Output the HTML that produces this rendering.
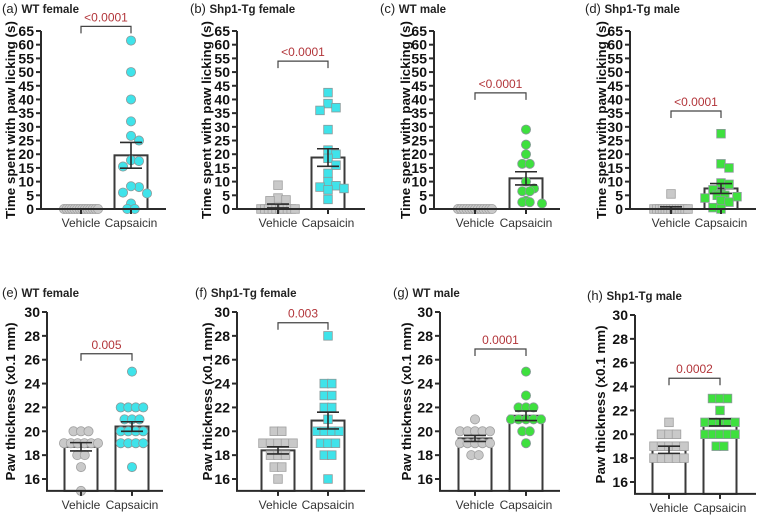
<!DOCTYPE html>
<html><head><meta charset="utf-8">
<style>
html,body{margin:0;padding:0;background:#fff;}
svg{display:block;font-family:"Liberation Sans",Arial,sans-serif;}
</style></head>
<body>
<svg id="fig" width="758" height="518" viewBox="0 0 758 518" xmlns="http://www.w3.org/2000/svg"></svg>
<script>
// ---- data ----
const categories = ["Vehicle","Capsaicin"];
const ticksLick = [0,5,10,15,20,25,30,35,40,45,50,55,60,65];
const ticksPaw = [16,18,20,22,24,26,28,30];

const aVehicle = [0,0,0,0,0,0,0,0,0,0,0,0,0,0];
const aCapsaicin = [61.5,50,40,32,25,26.7,17.8,17.5,15.5,8,8.3,6,5.7,2,0,0];
const aMeans = [0,19.6]; const aSems = [0,4.7];

const bVehicle = [8.7,4,3.3,3,0,0,0,0,0,0,0,0,0,0];
const bCapsaicin = [42.5,38.5,36,37,29,21.5,20,18.5,16,13,10,8.5,8,7,7.5,3.5];
const bMeans = [1.1,18.8]; const bSems = [0.7,3.2];

const cVehicle = [0,0,0,0,0,0,0,0,0,0,0,0,0];
const cCapsaicin = [29,23.5,20,16.5,16.5,10,7.5,6.5,6.5,3,2.5,2,2.5];
const cMeans = [0,11.2]; const cSems = [0,2.4];

const dVehicle = [5.5,0,0,0,0,0,0,0,0,0,0,0,0,0];
const dCapsaicin = [27.5,16.5,15,9.5,9,7,5.5,5,5,4.5,4,3,2.5,0.5,0];
const dMeans = [0.4,7.5]; const dSems = [0.4,1.8];

const eVehicle = [20,20,20,19,19,19,19,19,19,18,18,17,15];
const eCapsaicin = [25,22,22,22,22,21,21,21,20,20,20,20,19,19,19,19,17];
const eMeans = [18.7,20.4]; const eSems = [0.35,0.4];

const fVehicle = [20,20,19,19,19,19,19,18,18,18,17,17,16];
const fCapsaicin = [28,24,24,23,23,22,22,21,20,20,20,20,19,19,19,18,18,16];
const fMeans = [18.4,20.9]; const fSems = [0.3,0.7];

const gVehicle = [21,20,20,20,20,20,19,19,19,19,19,18,18];
const gCapsaicin = [25,23,22,22,22,21,21,21,21,21,20,20,19];
const gMeans = [19.4,21.3]; const gSems = [0.25,0.4];

const hVehicle = [21,20,20,20,19,19,19,19,19,18,18,18,18,18];
const hCapsaicin = [23,23,23,22,21,21,21,21,21,20,20,20,20,20,19,19];
const hMeans = [18.7,21.0]; const hSems = [0.3,0.3];

const pValues = ["<0.0001","<0.0001","<0.0001","<0.0001","0.005","0.003","0.0001","0.0002"];
const bracketValues = [66.7,54,42.4,35.8,26.5,29.1,26.9,24.7];

// ---- drawing ----
const NS="http://www.w3.org/2000/svg";
const svg=document.getElementById('fig');
function mk(tag,attrs,parent){const e=document.createElementNS(NS,tag);for(const k in attrs)e.setAttribute(k,attrs[k]);(parent||svg).appendChild(e);return e;}

const GRAY="#c9c9c9", GRAYS="#a0a0a0", CYAN="#3fe3ea", GREEN="#3ee03e", DARK="#2b2b2b", RED="#b2353a";

function layout(vals,y,cx){
  const out=[]; const groups={};
  vals.forEach((v,i)=>{(groups[v]=groups[v]||[]).push(i);});
  const placed=[];
  Object.keys(groups).map(Number).sort((a,b)=>b-a).forEach(v=>{
    const idx=groups[v]; const n=idx.length;
    if(n>1){
      const sp=Math.min(7.5,34/(n-1));
      idx.forEach((i,k)=>{const x=cx+(k-(n-1)/2)*sp;out[i]=[x,y(v)];placed.push([x,y(v)]);});
    }else{
      const py=y(v); const offs=[0,8,-8,16,-16];
      let best=offs[0];
      for(const o of offs){const ok=placed.every(p=>Math.hypot(p[0]-(cx+o),p[1]-py)>=8);if(ok){best=o;break;}}
      out[idx[0]]=[cx+best,py];placed.push([cx+best,py]);
    }
  });
  return out;
}

function panel(c){
  const g=mk('g',{});
  
  
  const y=v=>c.yPix0+(v-c.v0)*(c.yPix1-c.yPix0)/(c.v1-c.v0);
  const xs=[c.xVeh,c.xCap];
  const yBase=y(c.axisMin);
  const t=mk('text',{x:c.titleX,y:c.titleY,'font-size':13,fill:'#222'},g);
  
  
  const t1=mk('tspan',{},t);t1.textContent='('+c.id+') ';
  const t2=mk('tspan',{'font-weight':'bold','font-size':11.5},t);t2.textContent=c.title;
  const ymid=(y(c.v1)+yBase)/2;
  const yt=mk('text',{x:0,y:0,transform:`translate(${c.ytX},${ymid}) rotate(-90)`,'text-anchor':'middle','font-size':13,'font-weight':'bold',fill:'#111',textLength:c.ytLen,lengthAdjust:'spacingAndGlyphs'},g);
  yt.textContent=c.ytitle;
  
  
  c.means.forEach((m,i)=>{
    const r=mk('rect',{x:xs[i]-16.5,y:y(m),width:33,height:Math.max(0,yBase-y(m)),fill:'#fff',stroke:'#3a3a3a','stroke-width':2},g);
    
    
  });
  const col=c.color;
  [c.veh,c.cap].forEach((vals,gi)=>{
    const pts=layout(vals,y,xs[gi]);
    pts.forEach(p=>{
      const fill=gi===0?GRAY:col, st=gi===0?GRAYS:'#8a9a9a';
      let e;
      if(c.shape==='circle') e=mk('circle',{cx:p[0],cy:p[1],r:4.6,fill:fill,stroke:st,'stroke-width':0.8},g);
      else e=mk('rect',{x:p[0]-4.3,y:p[1]-4.3,width:8.6,height:8.6,fill:fill,stroke:st,'stroke-width':0.8},g);
      
      
    });
  });
  c.means.forEach((m,i)=>{
    if(c.sems[i]<=0) return;
    const eb=mk('path',{d:`M${xs[i]},${y(m-c.sems[i])}V${y(m+c.sems[i])}M${xs[i]-11},${y(m+c.sems[i])}H${xs[i]+11}M${xs[i]-11},${y(m-c.sems[i])}H${xs[i]+11}`,stroke:DARK,'stroke-width':1.6,fill:'none'},g);
    
    
  });
  const ax=mk('path',{d:`M${c.axX},${y(c.v1)}V${yBase}H${c.xEnd}`,stroke:DARK,'stroke-width':2,fill:'none'},g);
  
  
  c.ticks.forEach(tv=>{
    mk('line',{x1:c.axX-5,x2:c.axX,y1:y(tv),y2:y(tv),stroke:DARK,'stroke-width':2},g);
    const tl=mk('text',{x:c.axX-7,y:y(tv)+5,'text-anchor':'end','font-size':14,'font-weight':'bold',fill:'#111'},g);
    tl.textContent=tv;
    
    
  });
  xs.forEach((x,i)=>{
    mk('line',{x1:x,x2:x,y1:yBase,y2:yBase+5,stroke:DARK,'stroke-width':2},g);
    const xl=mk('text',{x:x,y:yBase+18,'text-anchor':'middle','font-size':12,fill:'#333'},g);
    xl.textContent=categories[i];
    
    
  });
  const by=y(c.bracket);
  const br=mk('path',{d:`M${xs[0]},${by+7}V${by}H${xs[1]}V${by+7}`,stroke:'#444','stroke-width':1.2,fill:'none'},g);
  
  
  const pt=mk('text',{x:(xs[0]+xs[1])/2,y:by-5,'text-anchor':'middle','font-size':12,fill:RED},g);
  pt.textContent=c.p;
  
  
}

const lickT="Time spent with paw licking (s)", pawT="Paw thickness (x0.1 mm)";
const topCfg={v0:0,v1:65,yPix0:209,yPix1:31,axisMin:0,ticks:ticksLick,ytitle:lickT,ytLen:198};
const botCfg={v0:16,v1:30,yPix0:479,yPix1:312,axisMin:15,ticks:ticksPaw,ytitle:pawT,ytLen:158};
panel(Object.assign({},topCfg,{id:'a',title:'WT female',titleX:2,titleY:13,ytX:15,axX:41,xVeh:81,xCap:131,xEnd:166,veh:aVehicle,cap:aCapsaicin,means:aMeans,sems:aSems,shape:'circle',color:CYAN,p:pValues[0],bracket:bracketValues[0]}));
panel(Object.assign({},topCfg,{id:'b',title:'Shp1-Tg female',titleX:190,titleY:13,ytX:211,axX:237,xVeh:278,xCap:328,xEnd:365,veh:bVehicle,cap:bCapsaicin,means:bMeans,sems:bSems,shape:'square',color:CYAN,p:pValues[1],bracket:bracketValues[1]}));
panel(Object.assign({},topCfg,{id:'c',title:'WT male',titleX:380,titleY:13,ytX:410,axX:434,xVeh:475,xCap:526,xEnd:560,veh:cVehicle,cap:cCapsaicin,means:cMeans,sems:cSems,shape:'circle',color:GREEN,p:pValues[2],bracket:bracketValues[2]}));
panel(Object.assign({},topCfg,{id:'d',title:'Shp1-Tg male',titleX:585,titleY:13,ytX:606,axX:630,xVeh:671,xCap:721,xEnd:756,veh:dVehicle,cap:dCapsaicin,means:dMeans,sems:dSems,shape:'square',color:GREEN,p:pValues[3],bracket:bracketValues[3]}));
panel(Object.assign({},botCfg,{id:'e',title:'WT female',titleX:2,titleY:297,ytX:15,axX:47,xVeh:81,xCap:132,xEnd:163,veh:eVehicle,cap:eCapsaicin,means:eMeans,sems:eSems,shape:'circle',color:CYAN,p:pValues[4],bracket:bracketValues[4]}));
panel(Object.assign({},botCfg,{id:'f',title:'Shp1-Tg female',titleX:195,titleY:297,ytX:212,axX:237,xVeh:278,xCap:328,xEnd:365,veh:fVehicle,cap:fCapsaicin,means:fMeans,sems:fSems,shape:'square',color:CYAN,p:pValues[5],bracket:bracketValues[5]}));
panel(Object.assign({},botCfg,{id:'g',title:'WT male',titleX:393,titleY:297,ytX:411,axX:440,xVeh:475,xCap:526,xEnd:560,veh:gVehicle,cap:gCapsaicin,means:gMeans,sems:gSems,shape:'circle',color:GREEN,p:pValues[6],bracket:bracketValues[6]}));
panel(Object.assign({},botCfg,{id:'h',yPix0:482,yPix1:315,title:'Shp1-Tg male',titleX:587,titleY:300,ytX:605,axX:635,xVeh:669,xCap:720,xEnd:756,veh:hVehicle,cap:hCapsaicin,means:hMeans,sems:hSems,shape:'square',color:GREEN,p:pValues[7],bracket:bracketValues[7]}));
</script>
</body></html>
